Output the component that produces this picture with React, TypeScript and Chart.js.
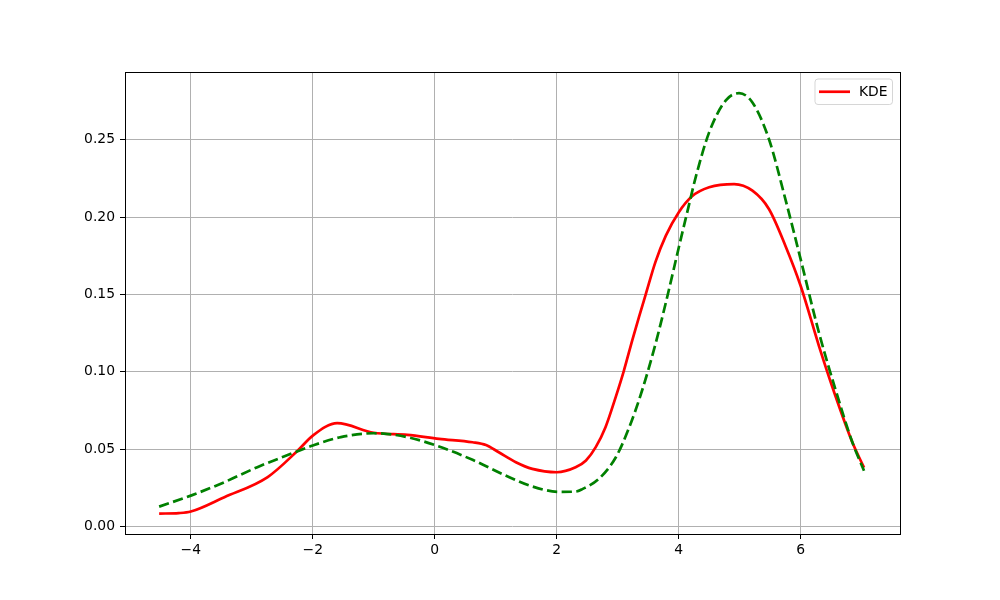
import React, { useEffect, useRef } from "react";
import { Chart, registerables } from "chart.js";

Chart.register(...registerables);

const redLabel = "KDE";
const redX = [-4.52, -4.2, -4, -3.45, -2.74, -2.25, -2, -1.6, -1.0, -0.45, 0.07, 0.62, 0.84, 1.05, 1.33, 1.6, 2.0, 2.31, 2.48, 2.64, 2.8, 2.97, 3.1, 3.24, 3.35, 3.46, 3.62, 3.79, 4.0, 4.22, 4.5, 4.91, 5.21, 5.48, 5.75, 6.0, 6.3, 6.57, 6.85, 7.04];
const redY = [0.0084, 0.0087, 0.0097, 0.019, 0.032, 0.049, 0.0588, 0.0668, 0.0606, 0.0593, 0.0567, 0.0545, 0.0527, 0.048, 0.0416, 0.0373, 0.0351, 0.0383, 0.0427, 0.0513, 0.0642, 0.084, 0.1005, 0.1205, 0.1355, 0.15, 0.171, 0.188, 0.203, 0.2134, 0.2192, 0.2213, 0.217, 0.2052, 0.1815, 0.1556, 0.1168, 0.0845, 0.0543, 0.0381];
const greenX = [-4.52, -4, -3.45, -2.91, -2.36, -2, -1.54, -1, -0.45, 0.07, 0.62, 1.16, 1.6, 2.05, 2.31, 2.42, 2.69, 2.97, 3.19, 3.4, 3.62, 3.81, 4.0, 4.14, 4.28, 4.5, 4.77, 4.99, 5.21, 5.48, 5.75, 6.0, 6.3, 6.57, 6.85, 7.04];
const greenY = [0.0129, 0.02, 0.0287, 0.0384, 0.047, 0.0524, 0.0578, 0.0603, 0.0578, 0.0517, 0.0431, 0.033, 0.0259, 0.0224, 0.0226, 0.0242, 0.0308, 0.0448, 0.0642, 0.0879, 0.118, 0.148, 0.18, 0.203, 0.2258, 0.2547, 0.2752, 0.28, 0.274, 0.2504, 0.2116, 0.1728, 0.1254, 0.0888, 0.0543, 0.036];
const xTicks = [-4, -2, 0, 2, 4, 6];
const yTicks = [0, 0.05, 0.1, 0.15, 0.2, 0.25];

const FONT = "'DejaVu Sans', sans-serif";

const framePlugin = {
  id: "frame",
  afterDatasetsDraw(chart: any) {
    const { ctx, chartArea: a } = chart;
    ctx.save();
    ctx.strokeStyle = "#000";
    ctx.lineWidth = 1;
    ctx.strokeRect(Math.round(a.left) + 0.5, Math.round(a.top) + 0.5, Math.round(a.right - a.left), Math.round(a.bottom - a.top));
    const ds = chart.data.datasets.find((d: any) => d.label);
    if (ds) {
      const x0 = a.right - 85, y0 = a.top + 7, w = 77.5, h = 25.5;
      const r = 3;
      ctx.beginPath();
      ctx.moveTo(x0 + r, y0);
      ctx.arcTo(x0 + w, y0, x0 + w, y0 + h, r);
      ctx.arcTo(x0 + w, y0 + h, x0, y0 + h, r);
      ctx.arcTo(x0, y0 + h, x0, y0, r);
      ctx.arcTo(x0, y0, x0 + w, y0, r);
      ctx.closePath();
      ctx.fillStyle = "rgba(255,255,255,0.8)";
      ctx.fill();
      ctx.strokeStyle = "rgba(204,204,204,0.8)";
      ctx.lineWidth = 1;
      ctx.stroke();
      const cy = y0 + h / 2;
      ctx.beginPath();
      ctx.moveTo(x0 + 4, cy);
      ctx.lineTo(x0 + 35, cy);
      ctx.strokeStyle = ds.borderColor;
      ctx.lineWidth = 2.7;
      ctx.stroke();
      ctx.fillStyle = "#000";
      ctx.font = `13.9px ${FONT}`;
      ctx.textBaseline = "middle";
      ctx.textAlign = "left";
      ctx.fillText(ds.label, x0 + 44, cy + 1);
    }
    ctx.restore();
  },
};

export default function App() {
  const ref = useRef<HTMLCanvasElement>(null);
  useEffect(() => {
    if (!ref.current) return;
    const chart = new Chart(ref.current, {
      type: "line",
      data: {
        datasets: [
          {
            data: greenX.map((x, i) => ({ x, y: greenY[i] })),
            borderColor: "#008000",
            borderWidth: 2.7,
            borderDash: [10.3, 4.4],
            pointRadius: 0,
            cubicInterpolationMode: "monotone",
            fill: false,
          },
          {
            label: redLabel,
            data: redX.map((x, i) => ({ x, y: redY[i] })),
            borderColor: "#ff0000",
            borderWidth: 2.7,
            pointRadius: 0,
            cubicInterpolationMode: "monotone",
            fill: false,
          },
        ],
      },
      options: {
        responsive: false,
        animation: false,
        layout: { padding: { top: 72, right: 100, left: 0, bottom: 0 } },
        plugins: { legend: { display: false }, tooltip: { enabled: false } },
        scales: {
          x: {
            type: "linear",
            min: -5.08,
            max: 7.63,
            afterFit: (s: any) => { s.height = 66; },
            afterBuildTicks: (s: any) => { s.ticks = xTicks.map((v) => ({ value: v })); },
            ticks: {
              includeBounds: false,
              color: "#000",
              font: { family: FONT, size: 13.9 },
              padding: 3,
              maxRotation: 0,
              callback: (v: any) => (v < 0 ? "\u2212" + Math.abs(v) : String(v)),
            },
            grid: { color: "#b0b0b0", lineWidth: 1, tickColor: "#000", tickLength: 5, drawTicks: true },
            border: { display: false },
          },
          y: {
            type: "linear",
            min: -0.0048,
            max: 0.2937,
            afterFit: (s: any) => { s.width = 125; },
            afterBuildTicks: (s: any) => { s.ticks = yTicks.map((v) => ({ value: v })); },
            ticks: {
              includeBounds: false,
              color: "#000",
              font: { family: FONT, size: 13.9 },
              padding: 5,
              callback: (v: any) => Number(v).toFixed(2),
            },
            grid: { color: "#b0b0b0", lineWidth: 1, tickColor: "#000", tickLength: 5, drawTicks: true },
            border: { display: false },
          },
        },
      },
      plugins: [framePlugin],
    } as any);
    return () => chart.destroy();
  }, []);
  return (
    <div style={{ position: "fixed", left: 0, top: 0, width: 1000, height: 600, background: "#fff" }}>
      <canvas ref={ref} width={1000} height={600} />
    </div>
  );
}
